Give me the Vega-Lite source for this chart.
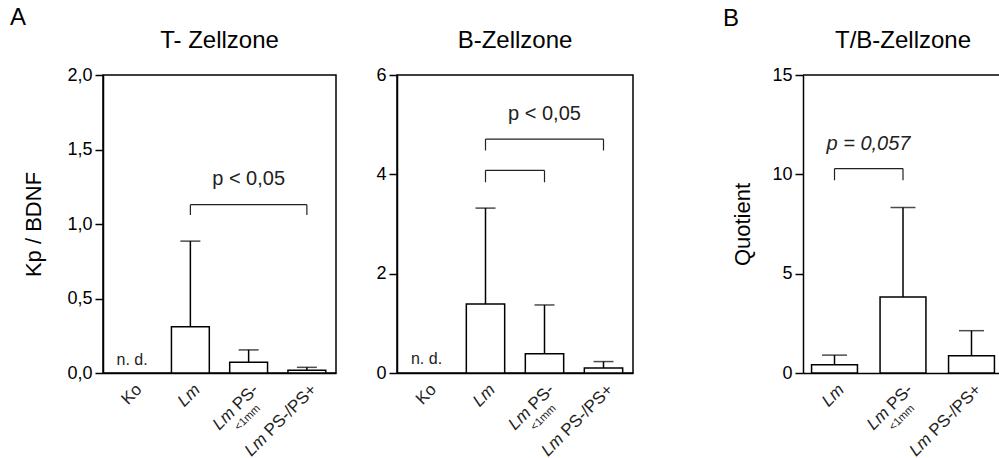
{
  "$schema": "https://vega.github.io/schema/vega-lite/v6.json",
  "padding": {"left": 10, "top": 6, "right": 0, "bottom": 0},
  "config": {
    "font": "Liberation Sans",
    "view": {"stroke": "black", "strokeWidth": 1.5},
    "axis": {"grid": false, "domainColor": "black", "domainWidth": 1.5, "tickColor": "black", "tickWidth": 1.5, "labelColor": "black", "titleColor": "black", "labelFontSize": 18, "titleFontSize": 22, "titleFontWeight": "normal", "tickSize": 8, "labelPadding": 3},
    "title": {"fontSize": 24, "fontWeight": "normal", "color": "black"}
  },
  "datasets": {
    "p1": [
      {"cat": "Lm", "mean": 0.31, "err": 0.885},
      {"cat": "Lm PS-<1mm", "mean": 0.072, "err": 0.155},
      {"cat": "Lm PS-/PS+", "mean": 0.018, "err": 0.038}
    ],
    "p2": [
      {"cat": "Lm", "mean": 1.39, "err": 3.32},
      {"cat": "Lm PS-<1mm", "mean": 0.39, "err": 1.37},
      {"cat": "Lm PS-/PS+", "mean": 0.10, "err": 0.23}
    ],
    "p3": [
      {"cat": "Lm", "mean": 0.42, "err": 0.9},
      {"cat": "Lm PS-<1mm", "mean": 3.82, "err": 8.33},
      {"cat": "Lm PS-/PS+", "mean": 0.87, "err": 2.13}
    ],
    "br1": [{"a": "Lm", "b": "Lm PS-/PS+", "top": 1.13, "bot": 1.06}],
    "br2": [
      {"a": "Lm", "b": "Lm PS-/PS+", "top": 4.71, "bot": 4.48},
      {"a": "Lm", "b": "Lm PS-<1mm", "top": 4.08, "bot": 3.84}
    ],
    "br3": [{"a": "Lm", "b": "Lm PS-<1mm", "top": 10.29, "bot": 9.7}],
    "pt1": [{"cat": "Lm PS-<1mm", "v": 1.30, "t": "p < 0,05"}],
    "pt2": [{"cat": "Lm PS-<1mm", "v": 5.22, "t": "p < 0,05"}],
    "pt3": [{"cat": "Lm", "v": 11.55, "t": "p = 0,057"}],
    "nd1": [{"cat": "Ko", "v": 0.09, "t": "n. d."}],
    "nd2": [{"cat": "Ko", "v": 0.28, "t": "n. d."}],
    "labels": [
      {"cat": "Ko", "lm": "", "rest": "Ko", "sub": ""},
      {"cat": "Lm", "lm": "Lm", "rest": "", "sub": ""},
      {"cat": "Lm PS-<1mm", "lm": "Lm", "rest": "PS-", "sub": "<1mm"},
      {"cat": "Lm PS-/PS+", "lm": "Lm", "rest": "PS-/PS+", "sub": ""}
    ]
  },
  "spacing": 89,
  "hconcat": [
    {
      "title": {"text": "A", "fontSize": 24, "anchor": "start", "frame": "group", "dx": -93, "offset": -2},
      "spacing": 38,
      "hconcat": [
        {
          "width": 233, "height": 298,
          "title": {"text": "T- Zellzone", "offset": 13},
          "layer": [
            {"data": {"name": "p1"},
             "mark": {"type": "bar", "fill": "white", "stroke": "black", "strokeWidth": 1.5},
             "encoding": {
               "x": {"field": "cat", "type": "nominal", "scale": {"domain": ["Ko", "Lm", "Lm PS-<1mm", "Lm PS-/PS+"], "paddingInner": 0.35, "paddingOuter": 0.175}, "axis": {"labels": false, "ticks": false, "title": null}},
               "y": {"field": "mean", "type": "quantitative", "scale": {"domain": [0, 2], "nice": false}, "axis": {"title": "Kp / BDNF", "values": [0, 0.5, 1, 1.5, 2], "labelExpr": "replace(format(datum.value,'.1f'),'.',',')", "titlePadding": 21}}
             }},
            {"data": {"name": "p1"},
             "mark": {"type": "rule", "strokeWidth": 1.5, "color": "black"},
             "encoding": {"x": {"field": "cat", "type": "nominal", "title": null}, "y": {"field": "mean", "type": "quantitative"}, "y2": {"field": "err"}}},
            {"data": {"name": "p1"},
             "mark": {"type": "tick", "size": 20, "thickness": 1.5, "color": "black"},
             "encoding": {"x": {"field": "cat", "type": "nominal", "title": null}, "y": {"field": "err", "type": "quantitative"}}},
            {"data": {"name": "br1"},
             "mark": {"type": "rule", "strokeWidth": 1.2, "color": "#222"},
             "encoding": {"x": {"field": "a", "type": "nominal", "title": null}, "x2": {"field": "b"}, "y": {"field": "top", "type": "quantitative"}}},
            {"data": {"name": "br1"},
             "mark": {"type": "rule", "strokeWidth": 1.2, "color": "#222"},
             "encoding": {"x": {"field": "a", "type": "nominal", "title": null}, "y": {"field": "top", "type": "quantitative"}, "y2": {"field": "bot"}}},
            {"data": {"name": "br1"},
             "mark": {"type": "rule", "strokeWidth": 1.2, "color": "#222"},
             "encoding": {"x": {"field": "b", "type": "nominal", "title": null}, "y": {"field": "top", "type": "quantitative"}, "y2": {"field": "bot"}}},
            {"data": {"name": "pt1"},
             "mark": {"type": "text", "fontSize": 20, "color": "#222"},
             "encoding": {"x": {"field": "cat", "type": "nominal", "title": null}, "y": {"field": "v", "type": "quantitative"}, "text": {"field": "t"}}},
            {"data": {"name": "nd1"},
             "mark": {"type": "text", "fontSize": 16, "color": "#222"},
             "encoding": {"x": {"field": "cat", "type": "nominal", "title": null}, "y": {"field": "v", "type": "quantitative"}, "text": {"field": "t"}}},
            {"data": {"name": "labels"},
             "mark": {"type": "text", "angle": -45, "align": "right", "baseline": "middle", "fontSize": 17, "dx": -5, "dy": 15, "color": "#222"},
             "encoding": {"x": {"field": "cat", "type": "nominal", "title": null}, "y": {"datum": 0}, "text": {"field": "rest"}}},
            {"data": {"name": "labels"}, "transform": [{"filter": "datum.cat == 'Lm'"}],
             "mark": {"type": "text", "angle": -45, "align": "right", "baseline": "middle", "fontSize": 17, "fontStyle": "italic", "dx": -5, "dy": 15, "color": "#222"},
             "encoding": {"x": {"field": "cat", "type": "nominal", "title": null}, "y": {"datum": 0}, "text": {"field": "lm"}}},
            {"data": {"name": "labels"}, "transform": [{"filter": "datum.cat == 'Lm PS-<1mm'"}],
             "mark": {"type": "text", "angle": -45, "align": "right", "baseline": "middle", "fontSize": 17, "fontStyle": "italic", "dx": -38, "dy": 15, "color": "#222"},
             "encoding": {"x": {"field": "cat", "type": "nominal", "title": null}, "y": {"datum": 0}, "text": {"field": "lm"}}},
            {"data": {"name": "labels"}, "transform": [{"filter": "datum.cat == 'Lm PS-/PS+'"}],
             "mark": {"type": "text", "angle": -45, "align": "right", "baseline": "middle", "fontSize": 17, "fontStyle": "italic", "dx": -75, "dy": 15, "color": "#222"},
             "encoding": {"x": {"field": "cat", "type": "nominal", "title": null}, "y": {"datum": 0}, "text": {"field": "lm"}}},
            {"data": {"name": "labels"}, "transform": [{"filter": "datum.cat == 'Lm PS-<1mm'"}],
             "mark": {"type": "text", "angle": -45, "align": "right", "baseline": "middle", "fontSize": 11, "dx": -17, "dy": 31, "color": "#222"},
             "encoding": {"x": {"field": "cat", "type": "nominal", "title": null}, "y": {"datum": 0}, "text": {"field": "sub"}}}
          ]
        },
        {
          "width": 236, "height": 298,
          "title": {"text": "B-Zellzone", "offset": 13},
          "layer": [
            {"data": {"name": "p2"},
             "mark": {"type": "bar", "fill": "white", "stroke": "black", "strokeWidth": 1.5},
             "encoding": {
               "x": {"field": "cat", "type": "nominal", "scale": {"domain": ["Ko", "Lm", "Lm PS-<1mm", "Lm PS-/PS+"], "paddingInner": 0.35, "paddingOuter": 0.175}, "axis": {"labels": false, "ticks": false, "title": null}},
               "y": {"field": "mean", "type": "quantitative", "scale": {"domain": [0, 6], "nice": false}, "axis": {"title": null, "values": [0, 2, 4, 6]}}
             }},
            {"data": {"name": "p2"},
             "mark": {"type": "rule", "strokeWidth": 1.5, "color": "black"},
             "encoding": {"x": {"field": "cat", "type": "nominal", "title": null}, "y": {"field": "mean", "type": "quantitative"}, "y2": {"field": "err"}}},
            {"data": {"name": "p2"},
             "mark": {"type": "tick", "size": 20, "thickness": 1.5, "color": "black"},
             "encoding": {"x": {"field": "cat", "type": "nominal", "title": null}, "y": {"field": "err", "type": "quantitative"}}},
            {"data": {"name": "br2"},
             "mark": {"type": "rule", "strokeWidth": 1.2, "color": "#222"},
             "encoding": {"x": {"field": "a", "type": "nominal", "title": null}, "x2": {"field": "b"}, "y": {"field": "top", "type": "quantitative"}}},
            {"data": {"name": "br2"},
             "mark": {"type": "rule", "strokeWidth": 1.2, "color": "#222"},
             "encoding": {"x": {"field": "a", "type": "nominal", "title": null}, "y": {"field": "top", "type": "quantitative"}, "y2": {"field": "bot"}}},
            {"data": {"name": "br2"},
             "mark": {"type": "rule", "strokeWidth": 1.2, "color": "#222"},
             "encoding": {"x": {"field": "b", "type": "nominal", "title": null}, "y": {"field": "top", "type": "quantitative"}, "y2": {"field": "bot"}}},
            {"data": {"name": "pt2"},
             "mark": {"type": "text", "fontSize": 20, "color": "#222"},
             "encoding": {"x": {"field": "cat", "type": "nominal", "title": null}, "y": {"field": "v", "type": "quantitative"}, "text": {"field": "t"}}},
            {"data": {"name": "nd2"},
             "mark": {"type": "text", "fontSize": 16, "color": "#222"},
             "encoding": {"x": {"field": "cat", "type": "nominal", "title": null}, "y": {"field": "v", "type": "quantitative"}, "text": {"field": "t"}}},
            {"data": {"name": "labels"},
             "mark": {"type": "text", "angle": -45, "align": "right", "baseline": "middle", "fontSize": 17, "dx": -5, "dy": 15, "color": "#222"},
             "encoding": {"x": {"field": "cat", "type": "nominal", "title": null}, "y": {"datum": 0}, "text": {"field": "rest"}}},
            {"data": {"name": "labels"}, "transform": [{"filter": "datum.cat == 'Lm'"}],
             "mark": {"type": "text", "angle": -45, "align": "right", "baseline": "middle", "fontSize": 17, "fontStyle": "italic", "dx": -5, "dy": 15, "color": "#222"},
             "encoding": {"x": {"field": "cat", "type": "nominal", "title": null}, "y": {"datum": 0}, "text": {"field": "lm"}}},
            {"data": {"name": "labels"}, "transform": [{"filter": "datum.cat == 'Lm PS-<1mm'"}],
             "mark": {"type": "text", "angle": -45, "align": "right", "baseline": "middle", "fontSize": 17, "fontStyle": "italic", "dx": -38, "dy": 15, "color": "#222"},
             "encoding": {"x": {"field": "cat", "type": "nominal", "title": null}, "y": {"datum": 0}, "text": {"field": "lm"}}},
            {"data": {"name": "labels"}, "transform": [{"filter": "datum.cat == 'Lm PS-/PS+'"}],
             "mark": {"type": "text", "angle": -45, "align": "right", "baseline": "middle", "fontSize": 17, "fontStyle": "italic", "dx": -75, "dy": 15, "color": "#222"},
             "encoding": {"x": {"field": "cat", "type": "nominal", "title": null}, "y": {"datum": 0}, "text": {"field": "lm"}}},
            {"data": {"name": "labels"}, "transform": [{"filter": "datum.cat == 'Lm PS-<1mm'"}],
             "mark": {"type": "text", "angle": -45, "align": "right", "baseline": "middle", "fontSize": 11, "dx": -17, "dy": 31, "color": "#222"},
             "encoding": {"x": {"field": "cat", "type": "nominal", "title": null}, "y": {"datum": 0}, "text": {"field": "sub"}}}
          ]
        }
      ]
    },
    {
      "title": {"text": "B", "fontSize": 24, "anchor": "start", "frame": "group", "dx": -80, "offset": -2},
      "hconcat": [
        {
          "width": 200, "height": 298,
          "view": {"stroke": null},
          "title": {"text": "T/B-Zellzone", "offset": 13},
          "layer": [
            {"data": {"name": "p3"},
             "mark": {"type": "bar", "fill": "white", "stroke": "black", "strokeWidth": 1.5},
             "encoding": {
               "x": {"field": "cat", "type": "nominal", "scale": {"domain": ["Lm", "Lm PS-<1mm", "Lm PS-/PS+"], "paddingInner": 0.33, "paddingOuter": 0.125}, "axis": {"labels": false, "ticks": false, "title": null}},
               "y": {"field": "mean", "type": "quantitative", "scale": {"domain": [0, 15], "nice": false}, "axis": {"title": "Quotient", "values": [0, 5, 10, 15], "titlePadding": 17}}
             }},
            {"data": {"values": [{"top": 15}]},
             "mark": {"type": "rule", "strokeWidth": 1.5, "color": "black"},
             "encoding": {"y": {"field": "top", "type": "quantitative"}}},
            {"data": {"name": "p3"},
             "mark": {"type": "rule", "strokeWidth": 1.5, "color": "black"},
             "encoding": {"x": {"field": "cat", "type": "nominal", "title": null}, "y": {"field": "mean", "type": "quantitative"}, "y2": {"field": "err"}}},
            {"data": {"name": "p3"},
             "mark": {"type": "tick", "size": 25, "thickness": 1.5, "color": "black"},
             "encoding": {"x": {"field": "cat", "type": "nominal", "title": null}, "y": {"field": "err", "type": "quantitative"}}},
            {"data": {"name": "br3"},
             "mark": {"type": "rule", "strokeWidth": 1.2, "color": "#222"},
             "encoding": {"x": {"field": "a", "type": "nominal", "title": null}, "x2": {"field": "b"}, "y": {"field": "top", "type": "quantitative"}}},
            {"data": {"name": "br3"},
             "mark": {"type": "rule", "strokeWidth": 1.2, "color": "#222"},
             "encoding": {"x": {"field": "a", "type": "nominal", "title": null}, "y": {"field": "top", "type": "quantitative"}, "y2": {"field": "bot"}}},
            {"data": {"name": "br3"},
             "mark": {"type": "rule", "strokeWidth": 1.2, "color": "#222"},
             "encoding": {"x": {"field": "b", "type": "nominal", "title": null}, "y": {"field": "top", "type": "quantitative"}, "y2": {"field": "bot"}}},
            {"data": {"name": "pt3"},
             "mark": {"type": "text", "fontSize": 20, "fontStyle": "italic", "dx": 34, "color": "#222"},
             "encoding": {"x": {"field": "cat", "type": "nominal", "title": null}, "y": {"field": "v", "type": "quantitative"}, "text": {"field": "t"}}},
            {"data": {"name": "labels"}, "transform": [{"filter": "datum.cat != 'Ko'"}],
             "mark": {"type": "text", "angle": -45, "align": "right", "baseline": "middle", "fontSize": 17, "dx": -5, "dy": 15, "color": "#222"},
             "encoding": {"x": {"field": "cat", "type": "nominal", "title": null}, "y": {"datum": 0}, "text": {"field": "rest"}}},
            {"data": {"name": "labels"}, "transform": [{"filter": "datum.cat == 'Lm'"}],
             "mark": {"type": "text", "angle": -45, "align": "right", "baseline": "middle", "fontSize": 17, "fontStyle": "italic", "dx": -5, "dy": 15, "color": "#222"},
             "encoding": {"x": {"field": "cat", "type": "nominal", "title": null}, "y": {"datum": 0}, "text": {"field": "lm"}}},
            {"data": {"name": "labels"}, "transform": [{"filter": "datum.cat == 'Lm PS-<1mm'"}],
             "mark": {"type": "text", "angle": -45, "align": "right", "baseline": "middle", "fontSize": 17, "fontStyle": "italic", "dx": -38, "dy": 15, "color": "#222"},
             "encoding": {"x": {"field": "cat", "type": "nominal", "title": null}, "y": {"datum": 0}, "text": {"field": "lm"}}},
            {"data": {"name": "labels"}, "transform": [{"filter": "datum.cat == 'Lm PS-/PS+'"}],
             "mark": {"type": "text", "angle": -45, "align": "right", "baseline": "middle", "fontSize": 17, "fontStyle": "italic", "dx": -75, "dy": 15, "color": "#222"},
             "encoding": {"x": {"field": "cat", "type": "nominal", "title": null}, "y": {"datum": 0}, "text": {"field": "lm"}}},
            {"data": {"name": "labels"}, "transform": [{"filter": "datum.cat == 'Lm PS-<1mm'"}],
             "mark": {"type": "text", "angle": -45, "align": "right", "baseline": "middle", "fontSize": 11, "dx": -17, "dy": 31, "color": "#222"},
             "encoding": {"x": {"field": "cat", "type": "nominal", "title": null}, "y": {"datum": 0}, "text": {"field": "sub"}}}
          ]
        }
      ]
    }
  ]
}
